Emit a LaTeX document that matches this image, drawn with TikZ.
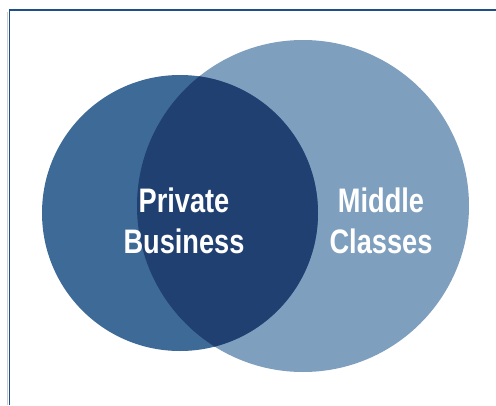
\documentclass[tikz,border=0pt]{standalone}
\usepackage{fontspec}
\setmainfont{Liberation Sans}[FakeStretch=0.8]
\usepackage{tikz}
\definecolor{frameblue}{HTML}{1F4E8C}
\definecolor{leftblue}{HTML}{3E6A98}
\definecolor{rightblue}{HTML}{7F9FBF}
\definecolor{midblue}{HTML}{1F4070}

\begin{document}
\begin{tikzpicture}[x=1pt,y=-1pt,
    lbl/.style={text=white,font=\fontsize{34}{41}\selectfont\bfseries,align=center}]
    \useasboundingbox (0,0) rectangle (496,405);
    \draw[gray!40,line width=1pt] (7.5,12) -- (7.5,405);
    \draw[frameblue,line width=1.2pt] (9.5,405) -- (9.5,10) -- (496,10);
    \fill[rightblue] (303,206) circle (166);
    \fill[leftblue] (180,213) circle (138);
    \begin{scope}
        \clip (180,213) circle (138);
        \fill[midblue] (303,206) circle (166);
    \end{scope}
    \node[lbl] (private) at (184,221) {Private\\Business};
    \node[lbl] (middle) at (381,221) {Middle\\Classes};
\end{tikzpicture}
\end{document}
